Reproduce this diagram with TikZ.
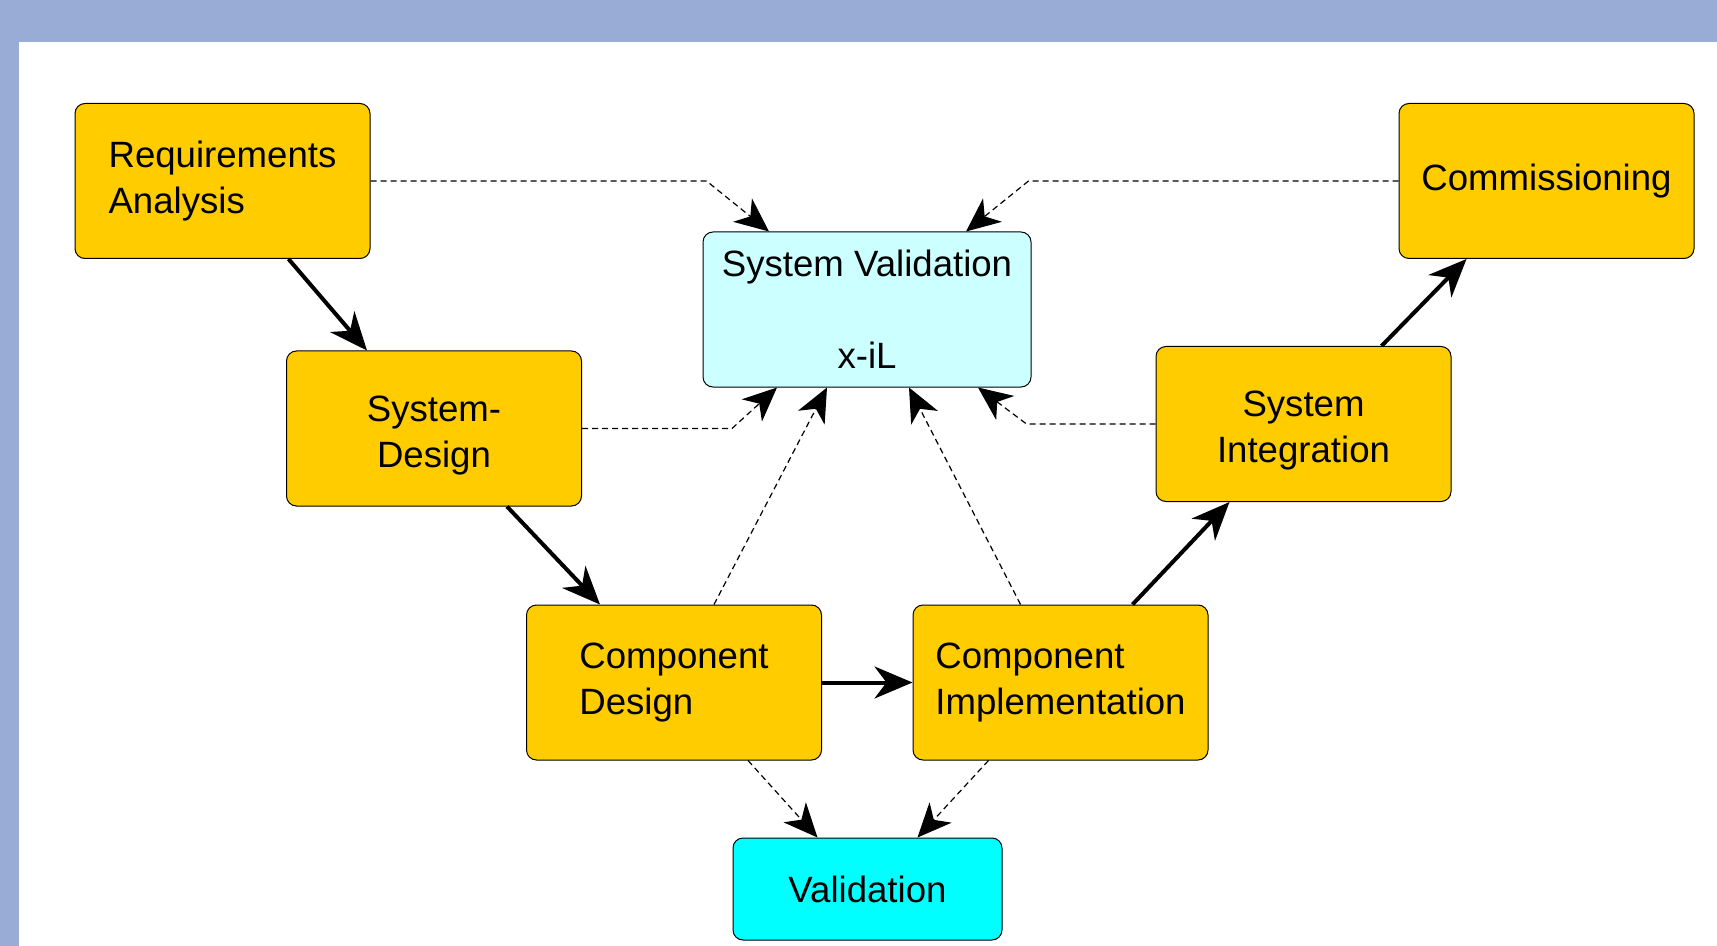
\documentclass[tikz,border=0pt]{standalone}
\usepackage{fontspec}
\setmainfont{Liberation Sans}
\usetikzlibrary{arrows.meta}
\definecolor{bandblue}{HTML}{98ACD6}
\definecolor{phaseyellow}{HTML}{FFCC00}
\definecolor{palecyan}{HTML}{CCFFFF}
\definecolor{fullcyan}{HTML}{00FFFF}
\begin{document}
\begin{tikzpicture}[x=0.5pt,y=-0.5pt]
    \tikzstyle{every node}=[font=\fontsize{18.3pt}{23pt}\selectfont]
    \tikzstyle{phase}=[draw=black, line width=0.5pt, rounded corners=5pt,
      fill=phaseyellow, minimum width=147.5pt, minimum height=77.5pt, inner sep=0pt]
    \tikzstyle{flow}=[line width=2pt, -{Stealth[length=19pt,width=16pt,inset=6pt]}]
    \tikzstyle{check}=[line width=0.6pt, dash pattern=on 3pt off 2pt,
      -{Stealth[length=17pt,width=15pt,inset=5pt]}]

    \fill[bandblue] (0,0) rectangle (1717,946);
    \fill[white] (19,42) rectangle (1717,946);
    \useasboundingbox (0,0) rectangle (1717,946);

    \node[phase, align=left] (req) at (222.5,181) {Requirements\\Analysis};
    \node[phase] (comm) at (1546.5,181) {Commissioning};
    \node[phase, fill=palecyan, minimum width=164pt, align=center] (sysval)
      at (867,309.5) {System Validation\\ \\x-iL};
    \node[phase, align=center] (sysdes) at (434,428.5) {\rule{0pt}{19.5pt}System-\\Design};
    \node[phase, align=center] (sysint) at (1303.5,424) {\rule{0pt}{19.5pt}System\\Integration};
    \node[phase, align=left] (compdes) at (674,682.5) {Component\\Design};
    \node[phase, align=left] (compimpl) at (1060.5,682.5) {Component\\Implementation};
    \node[phase, fill=fullcyan, minimum width=134.5pt, minimum height=51pt] (valid)
      at (867.5,889) {Validation};

    \draw[flow] ([xshift=33pt]req.south) -- ([xshift=-33.5pt]sysdes.north);
    \draw[flow] ([xshift=36.5pt]sysdes.south) -- ([xshift=-37pt]compdes.north);
    \draw[flow] (compdes.east) -- (compimpl.west);
    \draw[flow] ([xshift=36pt]compimpl.north) -- ([xshift=-37pt]sysint.south);
    \draw[flow] ([xshift=39pt]sysint.north) -- ([xshift=-40pt]comm.south);

    \draw[check] (req.east) -- ++(168pt,0) -- ([xshift=-49pt]sysval.north);
    \draw[check] (comm.west) -- ++(-185pt,0) -- ([xshift=49.5pt]sysval.north);
    \draw[check] (sysdes.east) -- ++(75pt,0) -- ([xshift=-45pt]sysval.south);
    \draw[check] (sysint.west) -- ++(-64.5pt,0) -- ([xshift=55.5pt]sysval.south);
    \draw[check] ([xshift=20pt]compdes.north) -- ([xshift=-20pt]sysval.south);
    \draw[check] ([xshift=-20pt]compimpl.north) -- ([xshift=21pt]sysval.south);
    \draw[check] ([xshift=37pt]compdes.south) -- ([xshift=-25pt]valid.north);
    \draw[check] ([xshift=-36pt]compimpl.south) -- ([xshift=25pt]valid.north);

\end{tikzpicture}
\end{document}
